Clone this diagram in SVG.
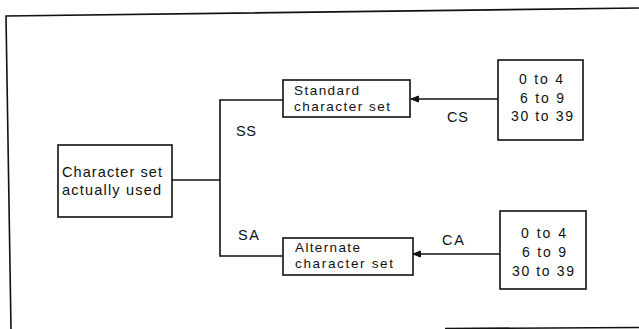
<svg xmlns="http://www.w3.org/2000/svg" width="639" height="329" viewBox="0 0 639 329">
<style>
.frame{fill:none;stroke:#111;stroke-width:1.6}
.box{fill:#fff;stroke:#111;stroke-width:1.6}
.ln{fill:none;stroke:#111;stroke-width:1.6}
text{font-family:"Liberation Sans",Arial,sans-serif;fill:#111}
.t{font-size:14.5px}
.s{font-size:13.5px}
.n{font-size:14px}
.lb{font-size:14.5px}
</style>
<defs>
<marker id="ah" markerWidth="10" markerHeight="8" refX="9" refY="4" orient="auto" markerUnits="userSpaceOnUse">
<path d="M9,4 L1.5,1 L1.5,7 Z" fill="#111" stroke="#111" stroke-width="1"/>
</marker>
</defs>
<g id="frame">
<path class="frame" d="M11,329 L6,16 L639,8"/>
<path class="frame" d="M445,328.5 L639,327.5"/>
</g>
<g id="connectors">
<path class="ln" d="M172,180 L220,180"/>
<path class="ln" d="M283,100 L220,100 L220,256 L283,256"/>
<path class="ln" d="M498,99 L411,99" marker-end="url(#ah)"/>
<path class="ln" d="M500,254 L413,254" marker-end="url(#ah)"/>
<text class="lb" x="236" y="136" textLength="20" lengthAdjust="spacing">SS</text>
<text class="lb" x="238" y="240" textLength="21" lengthAdjust="spacing">SA</text>
<text class="lb" x="447" y="122" textLength="21" lengthAdjust="spacing">CS</text>
<text class="lb" x="442" y="245" textLength="22" lengthAdjust="spacing">CA</text>
</g>
<g id="used">
<rect class="box" x="58" y="145" width="114" height="72"/>
<text class="t" x="62" y="177" textLength="100" lengthAdjust="spacing">Character set</text>
<text class="t" x="62" y="195" textLength="99" lengthAdjust="spacing">actually used</text>
</g>
<g id="standard">
<rect class="box" x="283" y="80" width="127" height="37"/>
<text class="s" x="294" y="94.5" textLength="65" lengthAdjust="spacing">Standard</text>
<text class="s" x="294" y="111" textLength="96" lengthAdjust="spacing">character set</text>
</g>
<g id="alternate">
<rect class="box" x="283" y="238" width="130" height="37"/>
<text class="s" x="295" y="251.5" textLength="65" lengthAdjust="spacing">Alternate</text>
<text class="s" x="295" y="268" textLength="98" lengthAdjust="spacing">character set</text>
</g>
<g id="codes-cs">
<rect class="box" x="498" y="60" width="85" height="80"/>
<text class="n" x="519" y="84" textLength="44" lengthAdjust="spacing">0 to 4</text>
<text class="n" x="520" y="103" textLength="44" lengthAdjust="spacing">6 to 9</text>
<text class="n" x="511" y="121" textLength="62" lengthAdjust="spacing">30 to 39</text>
</g>
<g id="codes-ca">
<rect class="box" x="500" y="211" width="86" height="78"/>
<text class="n" x="521" y="238" textLength="45" lengthAdjust="spacing">0 to 4</text>
<text class="n" x="522" y="257" textLength="44" lengthAdjust="spacing">6 to 9</text>
<text class="n" x="512" y="276" textLength="62" lengthAdjust="spacing">30 to 39</text>
</g>
</svg>
